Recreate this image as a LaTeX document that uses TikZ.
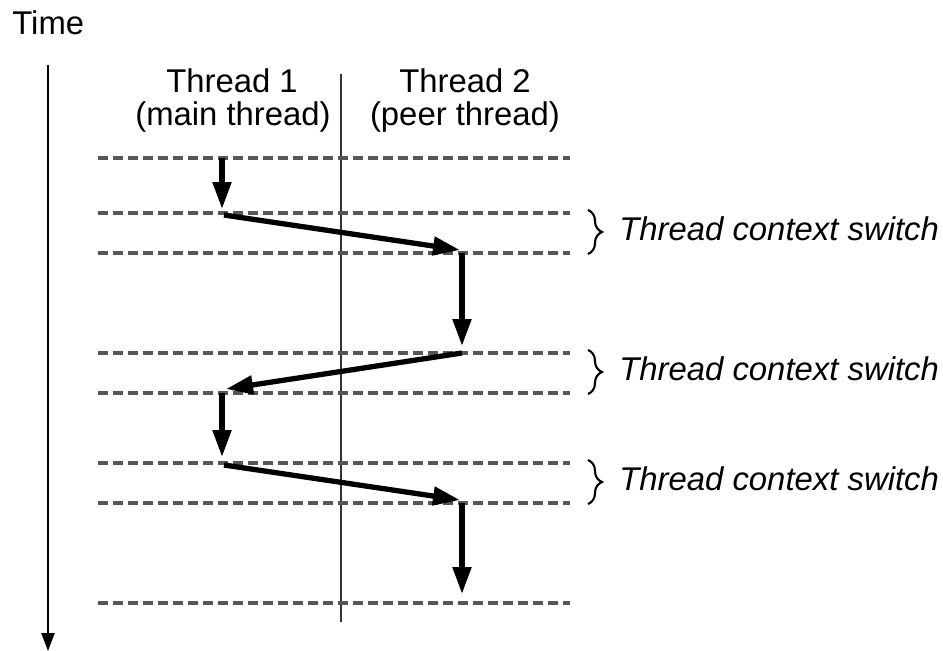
\documentclass[tikz,border=0pt]{standalone}
\usepackage{fontspec}
\setmainfont{Liberation Sans}
\usetikzlibrary{arrows.meta,decorations.pathreplacing}
\tikzset{
  stepline/.style={draw=black,line width=3pt,-{Triangle[length=0.54cm,width=0.36cm]}},
  gridline/.style={draw=black!66,line width=2.1pt,dash pattern=on 0.2cm off 0.1cm},
  switchbrace/.style={decorate,decoration={brace,amplitude=0.28cm},line width=1.2pt},
}
\begin{document}
\begin{tikzpicture}[x=0.02cm,y=-0.02cm,font=\fontsize{18.7}{22}\selectfont]
\useasboundingbox (0,0) rectangle (943,651);
% time axis
\node[anchor=base west,inner sep=0pt] (time) at (12,35) {Time};
\coordinate (ttop) at (48,65);
\coordinate (tbot) at (48,651);
\draw[line width=1.4pt,-{Triangle[length=0.36cm,width=0.26cm]}] (ttop) -- (tbot);
% thread headers
\node[anchor=base,inner sep=0pt] (th1) at (232,93) {Thread 1};
\node[anchor=base,inner sep=0pt] (th1sub) at (233,126) {(main thread)};
\node[anchor=base,inner sep=0pt] (th2) at (465,93) {Thread 2};
\node[anchor=base,inner sep=0pt] (th2sub) at (465,126) {(peer thread)};
% divider
\coordinate (dtop) at (341,74);
\coordinate (dbot) at (341,622);
\draw[draw=black!80,line width=1.3pt] (dtop) -- (dbot);
% time slices
\foreach \y in {158,213,253,353,393,463,503,603}
  \draw[gridline] (98,\y) -- (570,\y);
% control flow
\coordinate (s1) at (222,158); \coordinate (e1) at (222,209);
\coordinate (s2) at (224,215); \coordinate (e2) at (460,250);
\coordinate (s3) at (462,253); \coordinate (e3) at (462,346);
\coordinate (s4) at (462,353); \coordinate (e4) at (226,389);
\coordinate (s5) at (222,393); \coordinate (e5) at (222,457);
\coordinate (s6) at (224,465); \coordinate (e6) at (460,500);
\coordinate (s7) at (462,503); \coordinate (e7) at (462,594);
\foreach \i in {1,...,7}
  \draw[stepline] (s\i) -- (e\i);
% context switches
\foreach \a/\b [count=\i] in {213/253,353/393,463/503} {
  \coordinate (bt\i) at (588,\a-3);
  \coordinate (bb\i) at (588,\b+1);
  \draw[switchbrace] (bt\i) -- (bb\i);
  \node[anchor=base west,inner sep=0pt] (sw\i) at (619,{(\a+\b)/2+8}) {\itshape Thread context switch};
}
\end{tikzpicture}
\end{document}
